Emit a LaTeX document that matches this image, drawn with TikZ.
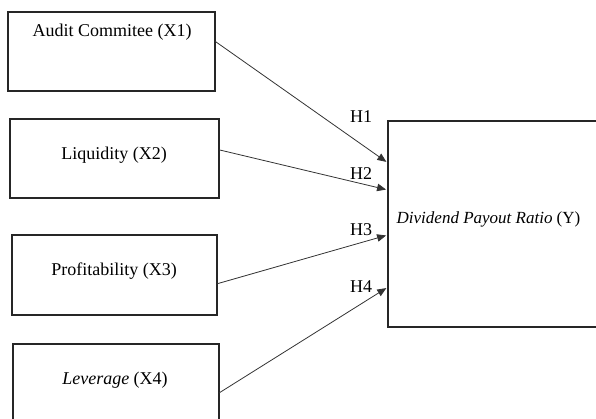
\documentclass[tikz,border=0pt]{standalone}
\usepackage{fontspec}
\setmainfont{Liberation Serif}
\usetikzlibrary{arrows.meta,calc}
\begin{document}
\begin{tikzpicture}[x=1pt,y=-1pt,
  box/.style={draw=black!85,line width=1.4pt,rectangle,inner sep=0pt,outer sep=0pt},
  lbl/.style={inner sep=0pt,font=\fontsize{18}{21}\selectfont},
  conn/.style={draw=black!80,line width=0.8pt,-{Triangle[length=9pt,width=7.5pt]},shorten >=2pt}]
\useasboundingbox (0,0) rectangle (596,418);
\clip (0,0) rectangle (596,418);
\node[box,minimum width=207pt,minimum height=79pt] (b1) at (111.5,51.5) {};
\node[box,minimum width=209pt,minimum height=79pt] (b2) at (114.5,158.5) {};
\node[box,minimum width=205pt,minimum height=80pt] (b3) at (114.5,275) {};
\node[box,minimum width=206pt,minimum height=79pt] (b4) at (116,383.5) {};
\node[box,minimum width=212pt,minimum height=206pt] (y) at (494,224) {};
\node[lbl] (t1) at (112,32) {Audit Commitee (X1)};
\node[lbl] (t2) at (114,155) {Liquidity (X2)};
\node[lbl] (t3) at (114,271) {Profitability (X3)};
\node[lbl] (t4) at (115,380) {\textit{Leverage} (X4)};
\node[lbl,font=\fontsize{17}{21}\selectfont] (t5) at (488.5,219) {\textit{Dividend Payout Ratio} (Y)};
\node[lbl] (h1) at (361,117) {H1};
\node[lbl] (h2) at (361,174) {H2};
\node[lbl] (h3) at (361,230) {H3};
\node[lbl] (h4) at (361,287) {H4};
\draw[conn] ($(b1.north east)!0.37!(b1.south east)$) -- ($(y.north west)!0.204!(y.south west)$);
\draw[conn] ($(b2.north east)!0.39!(b2.south east)$) -- ($(y.north west)!0.335!(y.south west)$);
\draw[conn] ($(b3.north east)!0.61!(b3.south east)$) -- ($(y.north west)!0.553!(y.south west)$);
\draw[conn] ($(b4.north east)!0.62!(b4.south east)$) -- ($(y.north west)!0.806!(y.south west)$);
\end{tikzpicture}
\end{document}
